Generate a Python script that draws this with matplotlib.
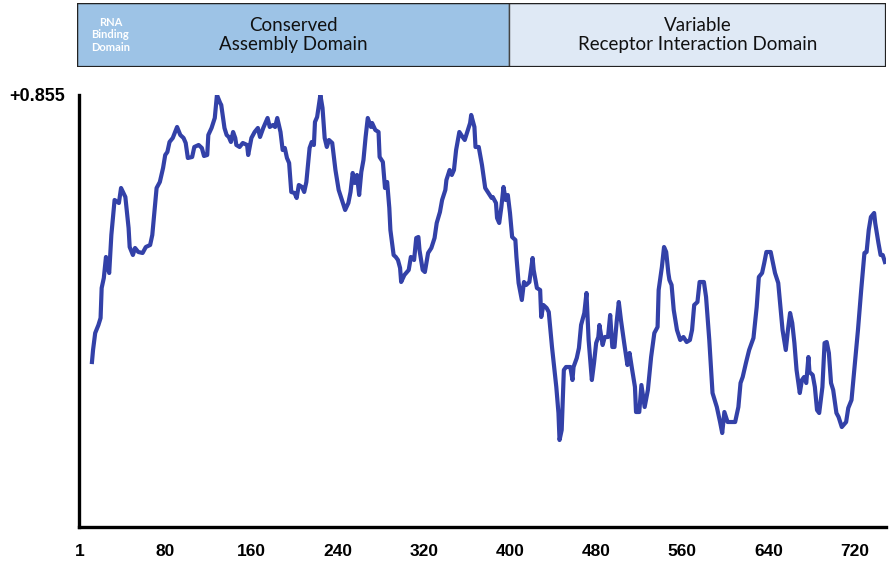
import matplotlib.pyplot as plt

# residue position / profile score
residue = [12, 13, 15, 18, 20, 21, 23, 25, 26, 28, 30, 33, 37, 39, 43, 46, 47, 50, 52, 55,
           59, 62, 66, 68, 72, 75, 78, 80, 82, 84, 87, 91, 94, 97, 99, 101, 105, 107, 111, 114,
           116, 119, 120, 123, 126, 128, 131, 132, 135, 137, 139, 141, 143, 145, 146, 149, 152, 156, 157, 160,
           163, 166, 168, 171, 173, 175, 177, 180, 182, 184, 187, 189, 191, 193, 195, 197, 200, 202, 204, 207,
           209, 211, 214, 216, 218, 219, 221, 224, 226, 228, 230, 232, 235, 238, 241, 244, 247, 250, 252, 254,
           256, 258, 260, 262, 264, 266, 268, 271, 272, 275, 278, 279, 282, 284, 286, 288, 289, 292, 294, 296,
           298, 299, 302, 306, 308, 311, 313, 315, 316, 319, 321, 324, 327, 330, 332, 335, 337, 340, 341, 344,
           346, 348, 350, 353, 356, 358, 361, 363, 364, 367, 368, 371, 374, 377, 380, 383, 384, 387, 388, 390,
           392, 394, 396, 398, 400, 402, 405, 406, 408, 411, 413, 415, 418, 421, 422, 425, 428, 429, 431, 434,
           436, 439, 443, 445, 446, 448, 450, 452, 456, 458, 459, 462, 464, 466, 469, 471, 473, 476, 478, 480,
           482, 483, 486, 488, 491, 493, 495, 497, 499, 501, 503, 506, 509, 511, 513, 516, 517, 520, 522, 525,
           528, 531, 534, 537, 538, 541, 543, 545, 547, 548, 550, 552, 555, 558, 561, 564, 567, 569, 571, 574,
           576, 580, 582, 585, 588, 592, 595, 597, 599, 602, 609, 612, 614, 616, 619, 622, 626, 629, 631, 634,
           636, 638, 642, 646, 649, 651, 653, 656, 658, 660, 662, 664, 666, 669, 671, 673, 675, 677, 678, 681,
           683, 685, 687, 690, 692, 694, 696, 698, 700, 703, 705, 708, 712, 714, 717, 720, 723, 726, 729, 731,
           733, 735, 738, 739, 742, 744, 746, 748]
score = [-0.213, -0.165, -0.097, -0.065, -0.037, 0.083, 0.123, 0.207, 0.175, 0.143, 0.295, 0.435, 0.423, 0.483, 0.447, 0.323, 0.247, 0.215, 0.243, 0.227,
         0.223, 0.247, 0.255, 0.295, 0.483, 0.507, 0.563, 0.615, 0.627, 0.667, 0.683, 0.727, 0.695, 0.683, 0.663, 0.603, 0.607, 0.647, 0.655, 0.643,
         0.611, 0.615, 0.695, 0.723, 0.763, 0.855, 0.823, 0.815, 0.723, 0.695, 0.687, 0.667, 0.707, 0.683, 0.655, 0.647, 0.663, 0.655, 0.615, 0.683,
         0.707, 0.723, 0.687, 0.723, 0.743, 0.763, 0.727, 0.735, 0.727, 0.763, 0.707, 0.635, 0.643, 0.603, 0.583, 0.467, 0.463, 0.443, 0.495, 0.487,
         0.467, 0.507, 0.643, 0.667, 0.655, 0.747, 0.767, 0.855, 0.803, 0.683, 0.647, 0.675, 0.663, 0.555, 0.475, 0.435, 0.395, 0.423, 0.467, 0.543,
         0.503, 0.535, 0.455, 0.547, 0.595, 0.687, 0.763, 0.727, 0.743, 0.715, 0.707, 0.607, 0.587, 0.483, 0.507, 0.403, 0.315, 0.215, 0.207, 0.195,
         0.163, 0.107, 0.135, 0.155, 0.207, 0.195, 0.283, 0.287, 0.235, 0.155, 0.147, 0.223, 0.243, 0.283, 0.343, 0.387, 0.435, 0.475, 0.515, 0.555,
         0.535, 0.555, 0.635, 0.707, 0.687, 0.675, 0.715, 0.743, 0.775, 0.727, 0.647, 0.647, 0.575, 0.483, 0.463, 0.443, 0.447, 0.423, 0.363, 0.343,
         0.407, 0.487, 0.435, 0.455, 0.383, 0.287, 0.275, 0.207, 0.103, 0.035, 0.107, 0.095, 0.107, 0.203, 0.155, 0.083, 0.075, -0.033, 0.015, 0.003,
         -0.013, -0.153, -0.313, -0.417, -0.525, -0.485, -0.245, -0.233, -0.233, -0.285, -0.233, -0.197, -0.157, -0.065, -0.017, 0.063, -0.125, -0.285, -0.217, -0.137,
         -0.113, -0.065, -0.145, -0.113, -0.113, -0.025, -0.153, -0.153, -0.053, 0.027, -0.045, -0.137, -0.225, -0.177, -0.233, -0.313, -0.413, -0.413, -0.305, -0.393,
         -0.325, -0.193, -0.097, -0.073, 0.075, 0.167, 0.247, 0.227, 0.143, 0.115, 0.095, -0.005, -0.085, -0.125, -0.113, -0.133, -0.125, -0.085, 0.015, 0.027,
         0.107, 0.107, 0.047, -0.125, -0.337, -0.393, -0.453, -0.497, -0.413, -0.453, -0.453, -0.393, -0.297, -0.273, -0.217, -0.165, -0.117, 0.007, 0.127, 0.143,
         0.183, 0.227, 0.227, 0.143, 0.103, 0.007, -0.085, -0.165, -0.085, -0.017, -0.057, -0.137, -0.245, -0.337, -0.285, -0.273, -0.297, -0.193, -0.253, -0.265,
         -0.313, -0.405, -0.417, -0.313, -0.137, -0.133, -0.177, -0.297, -0.325, -0.417, -0.433, -0.473, -0.453, -0.397, -0.365, -0.225, -0.085, 0.075, 0.223, 0.227,
         0.315, 0.367, 0.383, 0.343, 0.263, 0.215, 0.215, 0.187]

x_ticks = [1, 80, 160, 240, 320, 400, 480, 560, 640, 720]
y_top = 0.855

domain_start = [0, 400]
domain_end = [400, 749]
domain_names = ["Conserved\nAssembly Domain", "Variable\nReceptor Interaction Domain"]
domain_colors = ["#9dc3e6", "#dfe9f5"]
rna_label = "RNA\nBinding\nDomain"
rna_pos = 31

fig = plt.figure(figsize=(8.89, 5.63), dpi=100)

ax = fig.add_axes([0.0889, 0.0639, 0.9077, 0.7674])
ax.plot(residue, score, color="#3341a8", linewidth=3.0, solid_joinstyle="round")
ax.set_xlim(0, 749)
ax.set_ylim(-0.873, y_top)
ax.set_xticks(x_ticks)
ax.set_xticklabels([str(t) for t in x_ticks], fontsize=12.5, fontweight="bold",
                   family="Liberation Sans")
ax.set_yticks([y_top])
ax.set_yticklabels(["+0.855"], fontsize=13, fontweight="bold", family="Liberation Sans")
ax.tick_params(length=0, pad=12)
ax.tick_params(axis="y", pad=10)
for s in ["top", "right"]:
    ax.spines[s].set_visible(False)
for s in ["left", "bottom"]:
    ax.spines[s].set_linewidth(2.4)
    ax.spines[s].set_color("black")

# domain header
hx = fig.add_axes([0.0866, 0.881, 0.9100, 0.1137])
for st, en, name, col in zip(domain_start, domain_end, domain_names, domain_colors):
    hx.barh(0, en - st, left=st, height=1, color=col, edgecolor="#444444", linewidth=1.0)
    hx.text((st + en) / 2, 0, name, ha="center", va="center", fontsize=13.5,
            family="Lato", linespacing=1.2, color="#111111")
hx.text(rna_pos, 0, rna_label, ha="center", va="center", fontsize=8,
        fontweight="bold", family="Lato", color="white", linespacing=1.2)
hx.set_xlim(0, 749)
hx.set_ylim(-0.5, 0.5)
hx.axis("off")
hx.add_patch(plt.Rectangle((0, -0.5), 749, 1, fill=False, edgecolor="#222222", linewidth=1.6))

fig.savefig("out.png", dpi=100)
